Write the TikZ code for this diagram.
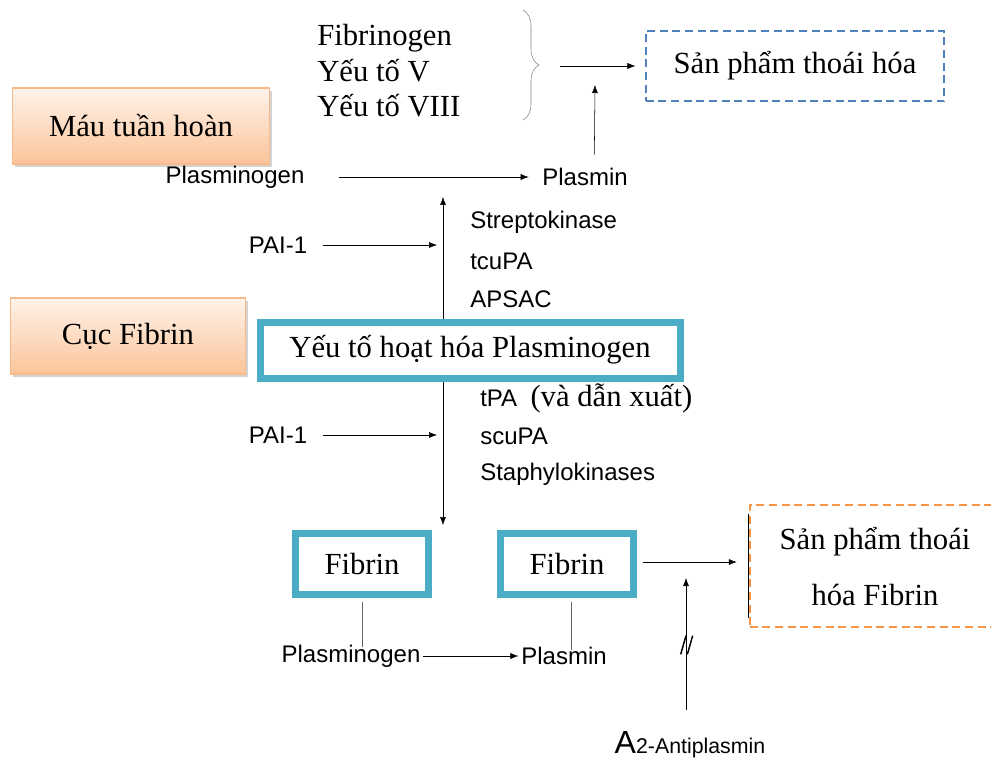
\documentclass[tikz,border=0pt]{standalone}
\usepackage{fontspec}
\setmainfont{Liberation Serif}
\newfontfamily\arialfont{Liberation Sans}
\usetikzlibrary{arrows.meta,decorations.pathreplacing,shadows}

\definecolor{tealline}{HTML}{4BACC6}
\definecolor{peachline}{HTML}{F9B98A}
\definecolor{peachdark}{HTML}{FBC49A}
\definecolor{peachlight}{HTML}{FFF3EA}
\definecolor{bluedash}{HTML}{4F81BD}
\definecolor{orangedash}{HTML}{F79646}

\begin{document}
\begin{tikzpicture}
  [x=0.75pt,y=-0.75pt,>={Latex[length=6pt,width=4.5pt]},
   every node/.style={inner sep=0pt},
   sanstext/.style={font=\arialfont\fontsize{18}{20}\selectfont},
   seriftext/.style={font=\fontsize{23}{26}\selectfont},
   peachbox/.style={draw=peachline,thick,top color=peachlight,bottom color=peachdark,
     drop shadow={shadow xshift=2pt,shadow yshift=-2.5pt,opacity=.35},
     font=\fontsize{23}{26}\selectfont},
   tealbox/.style={draw=tealline,line width=5.25pt,fill=white,font=\fontsize{23}{26}\selectfont},
   dashbox/.style={dashed,dash pattern=on 6pt off 3.5pt,line width=1.3pt,fill=white,align=center,
     font=\fontsize{23}{26}\selectfont}]
  \useasboundingbox (0,0) rectangle (991,759);
  \clip (0,0) rectangle (991,759);

  % truc chinh phia sau khung
  \coordinate (axtop) at (443,197);
  \coordinate (axbot) at (443,525);
  \draw[<->,thin] (axtop) -- (axbot);

  \node[peachbox,minimum width=193pt,minimum height=57pt] (mau) at (141,126) {Máu tuần hoàn};
  \node[peachbox,minimum width=176pt,minimum height=57pt] (cuc) at (128,336) {Cục Fibrin};

  \node[seriftext,anchor=west] (fibrinogen) at (317,38) {Fibrinogen};
  \node[seriftext,anchor=west] (yeutoV) at (317,71) {Yếu tố V};
  \node[seriftext,anchor=west] (yeutoVIII) at (317,106) {Yếu tố VIII};
  \draw[gray,decorate,decoration={brace,amplitude=12pt}] (523,10) -- (523,120);

  \node[dashbox,draw=bluedash,minimum width=224pt,minimum height=53pt] (spth) at (795,66) {Sản phẩm thoái hóa};
  \coordinate (bracetip) at (560,66);
  \draw[->] (bracetip) -- (spth.west) [shorten >=7pt];

  \node[sanstext] (plasminogen1) at (235,177) {Plasminogen};
  \node[sanstext] (plasmin1) at (585,177) {Plasmin};
  \draw[->] (plasminogen1.east) -- (plasmin1.west) [shorten <=26pt,shorten >=10pt];
  \coordinate (plasmintip) at (595,85);
  \draw[->] ([xshift=7pt,yshift=10pt]plasmin1.north) -- (plasmintip);

  \node[sanstext,anchor=west] (strepto) at (470,222) {Streptokinase};
  \node[sanstext,anchor=west] (tcupa) at (470,261) {tcuPA};
  \node[sanstext,anchor=west] (apsac) at (470,299) {APSAC};

  \node[tealbox,minimum width=315pt,minimum height=42pt] (hoathoa) at (470,350) {Yếu tố hoạt hóa Plasminogen};

  \node[sanstext,anchor=west] (tpa) at (480,398) {tPA\ \ {\rmfamily\fontsize{23}{26}\selectfont (và dẫn xuất)}};
  \node[sanstext,anchor=west] (scupa) at (480,436) {scuPA};
  \node[sanstext,anchor=west] (staphylo) at (480,474) {Staphylokinases};

  \node[sanstext] (pai1) at (278,245) {PAI-1};
  \node[sanstext] (pai2) at (278,435) {PAI-1};
  \coordinate (pai1end) at (437,245);
  \coordinate (pai2end) at (437,435);
  \foreach \from/\to in {pai1/pai1end,pai2/pai2end}
    \draw[->] (\from.east) -- (\to) [shorten <=12pt];

  \node[tealbox,minimum width=100pt,minimum height=46pt] (fibrin1) at (362,564) {Fibrin};
  \node[tealbox,minimum width=100pt,minimum height=46pt] (fibrin2) at (567,564) {Fibrin};

  \node[sanstext] (plasminogen2) at (351,656) {Plasminogen};
  \node[sanstext] (plasmin2) at (564,656) {Plasmin};
  \draw[->] (plasminogen2.east) -- (plasmin2.west) [shorten <=2pt,shorten >=2pt];
  \draw[gray!80!black] (fibrin1.south) -- (fibrin1.south |- plasminogen2.north) [shorten <=2.6pt,shorten >=-2pt];
  \draw[gray!80!black] ([xshift=3pt]fibrin2.south) -- ([xshift=3pt]fibrin2.south |- plasmin2.north) [shorten <=2.6pt,shorten >=-2pt];

  \node[dashbox,draw=orangedash,minimum width=188pt,minimum height=91pt,text depth=-6pt] (spfibrin) at (875,566)
    {Sản phẩm thoái\\[16pt]hóa Fibrin};
  \draw[thick] ([yshift=-7pt]spfibrin.north west) -- ([yshift=7pt]spfibrin.south west);
  \draw[->] ([yshift=1.5pt]fibrin2.east) -- ([yshift=1.5pt]fibrin2.east -| spfibrin.west) [shorten <=4pt,shorten >=9pt];

  \node[sanstext] (antiplasmin) at (690,745) {{\fontsize{24}{26}\selectfont A}{\fontsize{16}{18}\selectfont 2-Antiplasmin}};
  \coordinate (antitop) at (686,578);
  \draw[->] ([xshift=-3pt]antiplasmin.north) -- (antitop) [shorten <=16pt];
  % dau chan
  \node (chan) at (686,645) {};
  \draw[line width=1.1pt] ([xshift=-4pt,yshift=-7pt]chan.center) -- ([xshift=0pt,yshift=7pt]chan.center);
  \draw[line width=1.1pt] ([xshift=1pt,yshift=-7pt]chan.center) -- ([xshift=5pt,yshift=7pt]chan.center);
\end{tikzpicture}
\end{document}
